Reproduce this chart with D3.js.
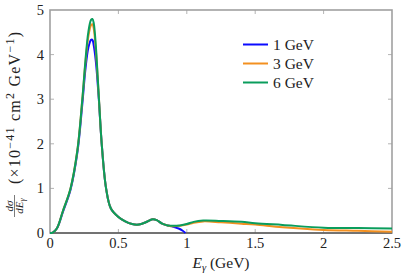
<html lang="en">
<head>
<meta charset="UTF-8"/>
<title>Photon spectrum</title>
<script src="https://d3js.org/d3.v7.min.js"></script>
<style>
    body { margin: 0; background: white; }
    text { font-family: "Liberation Serif", "DejaVu Serif", serif; fill: #222; }
</style>
</head>
<body>
<script>
    // E_gamma (GeV) and d sigma / dE (x10^-41 cm^2 GeV^-1)
    var x1 = [0, 0.02, 0.05, 0.095, 0.15, 0.2, 0.235, 0.26, 0.28, 0.3, 0.31, 0.32, 0.335, 0.345, 0.358, 0.378, 0.41, 0.445, 0.5, 0.55, 0.6, 0.65, 0.7, 0.75, 0.78, 0.82, 0.86, 0.9, 0.94, 0.97, 0.99];
    var y1 = [0, 0.01, 0.1, 0.48, 0.97, 1.8, 2.85, 3.7, 4.15, 4.33, 4.33, 4.2, 3.85, 3.5, 2.95, 2.0, 1.0, 0.55, 0.36, 0.26, 0.2, 0.19, 0.24, 0.31, 0.29, 0.21, 0.17, 0.14, 0.1, 0.05, 0];

    var x3 = [0, 0.02, 0.05, 0.095, 0.15, 0.2, 0.235, 0.26, 0.28, 0.3, 0.31, 0.32, 0.335, 0.345, 0.358, 0.378, 0.41, 0.445, 0.5, 0.55, 0.6, 0.65, 0.7, 0.75, 0.78, 0.82, 0.86, 0.9, 0.95, 1.0, 1.05, 1.12, 1.25, 1.4, 1.5, 1.7, 2.0, 2.25, 2.5];
    var y3 = [0, 0.01, 0.1, 0.5, 1.0, 1.85, 2.95, 3.85, 4.4, 4.66, 4.68, 4.58, 4.1, 3.65, 3.0, 2.0, 1.0, 0.55, 0.36, 0.26, 0.2, 0.19, 0.24, 0.31, 0.29, 0.21, 0.17, 0.15, 0.16, 0.19, 0.23, 0.26, 0.24, 0.21, 0.19, 0.13, 0.07, 0.05, 0.03];

    var x6 = [0, 0.02, 0.05, 0.095, 0.15, 0.2, 0.235, 0.26, 0.28, 0.3, 0.31, 0.32, 0.335, 0.345, 0.358, 0.378, 0.41, 0.445, 0.5, 0.55, 0.6, 0.65, 0.7, 0.75, 0.78, 0.82, 0.86, 0.9, 0.95, 1.0, 1.05, 1.12, 1.25, 1.4, 1.5, 1.7, 2.0, 2.25, 2.5];
    var y6 = [0, 0.01, 0.1, 0.5, 1.0, 1.85, 2.95, 3.9, 4.5, 4.78, 4.8, 4.7, 4.2, 3.7, 3.0, 2.0, 1.0, 0.55, 0.36, 0.26, 0.2, 0.19, 0.24, 0.31, 0.29, 0.21, 0.17, 0.16, 0.17, 0.2, 0.25, 0.28, 0.27, 0.25, 0.22, 0.18, 0.12, 0.11, 0.10];

    var seriesNames = ["1 GeV", "3 GeV", "6 GeV"];
    var seriesColors = ["#0b0bff", "#f39020", "#0a9d5c"];
    var xTicks = [0, 0.5, 1, 1.5, 2, 2.5];
    var yTicks = [0, 1, 2, 3, 4, 5];

    var w = 407, h = 280;
    var padL = 50, padR = 392, padT = 10, padB = 233;

    var xScale = d3.scaleLinear().domain([0, 2.5]).range([padL, padR]);
    var yScale = d3.scaleLinear().domain([0, 5]).range([padB, padT]);

    var svg = d3.select("body").append("svg")
        .attr("width", w)
        .attr("height", h);

    // frame
    svg.append("rect")
        .attr("x", padL).attr("y", padT)
        .attr("width", padR - padL).attr("height", padB - padT)
        .attr("fill", "none")
        .attr("stroke", "#a0a0a0")
        .attr("stroke-width", 1.6);

    // inward ticks on all four sides
    var tickLen = 4;
    xTicks.forEach(function(t) {
        if (t == 0 || t == 2.5) return;
        svg.append("line").attr("x1", xScale(t)).attr("x2", xScale(t))
            .attr("y1", padB).attr("y2", padB - tickLen)
            .attr("stroke", "#a0a0a0").attr("stroke-width", 0.8);
        svg.append("line").attr("x1", xScale(t)).attr("x2", xScale(t))
            .attr("y1", padT).attr("y2", padT + tickLen)
            .attr("stroke", "#a0a0a0").attr("stroke-width", 0.8);
    });
    yTicks.forEach(function(t) {
        if (t == 0 || t == 5) return;
        svg.append("line").attr("x1", padL).attr("x2", padL + tickLen)
            .attr("y1", yScale(t)).attr("y2", yScale(t))
            .attr("stroke", "#a0a0a0").attr("stroke-width", 0.8);
        svg.append("line").attr("x1", padR).attr("x2", padR - tickLen)
            .attr("y1", yScale(t)).attr("y2", yScale(t))
            .attr("stroke", "#a0a0a0").attr("stroke-width", 0.8);
    });

    // x axis line (dark)
    svg.append("line")
        .attr("x1", padL).attr("x2", padR)
        .attr("y1", padB).attr("y2", padB)
        .attr("stroke", "#333").attr("stroke-width", 1);

    // tick labels
    svg.selectAll(".xlab")
        .data(xTicks)
        .enter()
        .append("text")
        .attr("x", function(d) { return xScale(d); })
        .attr("y", 248)
        .attr("text-anchor", "middle")
        .attr("font-size", 14.5)
        .text(function(d) { return d; });

    svg.selectAll(".ylab")
        .data(yTicks)
        .enter()
        .append("text")
        .attr("x", 44)
        .attr("y", function(d) { return yScale(d) + 5; })
        .attr("text-anchor", "end")
        .attr("font-size", 14.5)
        .text(function(d) { return d; });

    // curves
    var line = d3.line()
        .x(function(d) { return xScale(d[0]); })
        .y(function(d) { return yScale(d[1]); })
        .curve(d3.curveCatmullRom.alpha(0.5));

    var data = [d3.zip(x1, y1), d3.zip(x3, y3), d3.zip(x6, y6)];
    data.forEach(function(pts, i) {
        svg.append("path")
            .attr("d", line(pts))
            .attr("fill", "none")
            .attr("stroke", seriesColors[i])
            .attr("stroke-width", 2);
    });

    // legend
    seriesNames.forEach(function(name, i) {
        var ly = 44.5 + i * 19;
        svg.append("line")
            .attr("x1", 243).attr("x2", 268)
            .attr("y1", ly).attr("y2", ly)
            .attr("stroke", seriesColors[i])
            .attr("stroke-width", 2);
        svg.append("text")
            .attr("x", 273).attr("y", ly + 5)
            .attr("font-size", 15.5)
            .text(name);
    });

    // x label
    var xl = svg.append("text")
        .attr("x", 221).attr("y", 268)
        .attr("text-anchor", "middle")
        .attr("font-size", 15.5);
    xl.append("tspan").attr("font-style", "italic").text("E");
    xl.append("tspan").attr("font-style", "italic").attr("font-size", 10.5).attr("dy", 3).text("γ");
    xl.append("tspan").attr("dy", -3).text(" (GeV)");

    // y label (rotated)
    var yl = svg.append("g").attr("transform", "translate(0,123) rotate(-90)");
    yl.append("text").attr("x", -83).attr("y", 12.5)
        .attr("text-anchor", "middle").attr("font-size", 11)
        .attr("font-style", "italic").text("dσ");
    yl.append("line").attr("x1", -94).attr("x2", -72)
        .attr("y1", 14.5).attr("y2", 14.5)
        .attr("stroke", "#222").attr("stroke-width", 0.6);
    var den = yl.append("text").attr("x", -83).attr("y", 23)
        .attr("text-anchor", "middle").attr("font-size", 11)
        .attr("font-style", "italic");
    den.append("tspan").text("dE");
    den.append("tspan").attr("font-size", 8).attr("dy", 2).text("γ");

    var yt = yl.append("text").attr("x", -61).attr("y", 19.5)
        .attr("font-size", 16)
        .attr("textLength", 152)
        .attr("lengthAdjust", "spacing");
    yt.append("tspan").text("(×10");
    yt.append("tspan").attr("font-size", 12).attr("dy", -6).text("−41");
    yt.append("tspan").attr("dy", 6).text(" cm");
    yt.append("tspan").attr("font-size", 12).attr("dy", -6).text("2");
    yt.append("tspan").attr("dy", 6).text(" GeV");
    yt.append("tspan").attr("font-size", 12).attr("dy", -6).text("−1");
    yt.append("tspan").attr("dy", 6).text(")");
</script>
</body>
</html>
